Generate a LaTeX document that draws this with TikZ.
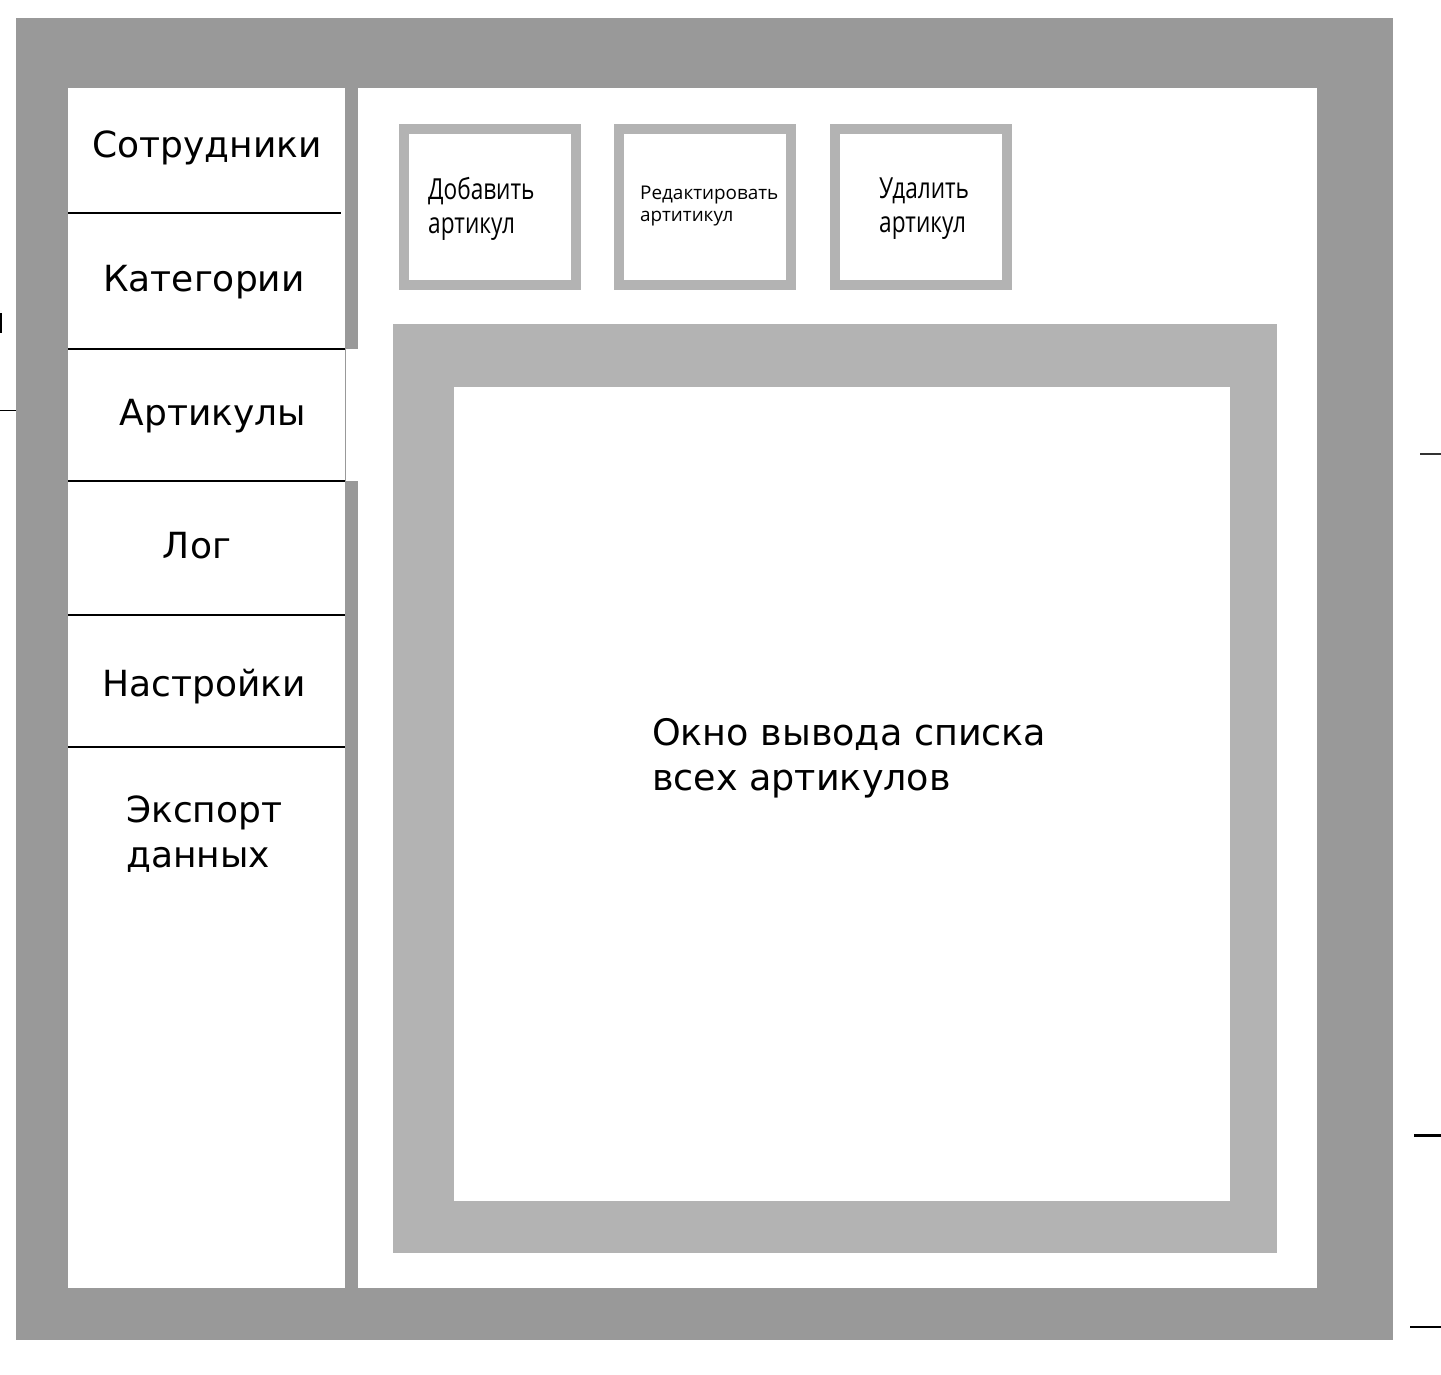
\documentclass[tikz,border=0pt]{standalone}
\usepackage{fontspec}
\setmainfont{DejaVu Sans}
\newfontfamily\btnfont{Open Sans}
\definecolor{outergray}{RGB}{153,153,153}
\definecolor{boxgray}{RGB}{179,179,179}
\tikzset{
  menutext/.style={anchor=base, inner sep=0pt, font=\fontsize{36}{45}\selectfont},
  divider/.style={draw=black, line width=2pt},
  btnbox/.style={draw=boxgray, fill=white, line width=10pt, minimum width=172pt, minimum height=156pt, inner sep=0pt},
  btntext/.style={anchor=base west, inner sep=0pt, align=left},
  stray/.style={draw=black, line width=1.5pt},
}
\begin{document}
\begin{tikzpicture}[x=1pt,y=-1pt]
\useasboundingbox (0,0) rectangle (1441,1375);
% frame
\fill[outergray] (16,18) rectangle (1393,1340);
\fill[white] (68,88) rectangle (345,1288);
\fill[white] (358,88) rectangle (1317,1288);
\fill[white] (345,349) rectangle (358,481);
\draw[outergray, line width=1pt] (345.5,349) -- (345.5,481);
% menu
\node[menutext] (m1) at (207,158) {Сотрудники};
\node[menutext] (m2) at (204,291) {Категории};
\node[menutext] (m3) at (213,425) {Артикулы};
\node[menutext] (m4) at (197,558) {Лог};
\node[menutext] (m5) at (204,696) {Настройки};
\node[menutext, anchor=base west, align=left] (m6) at (126,867) {Экспорт\\данных};
\coordinate (d1a) at (68,213); \coordinate (d1b) at (341,213);
\coordinate (d2a) at (68,349); \coordinate (d2b) at (345,349);
\coordinate (d3a) at (68,481); \coordinate (d3b) at (345,481);
\coordinate (d4a) at (68,615); \coordinate (d4b) at (345,615);
\coordinate (d5a) at (68,747); \coordinate (d5b) at (345,747);
\draw[divider] (d1a) -- (d1b);
\draw[divider] (d2a) -- (d2b);
\draw[divider] (d3a) -- (d3b);
\draw[divider] (d4a) -- (d4b);
\draw[divider] (d5a) -- (d5b);
% buttons
\node[btnbox] (b1) at (490,207) {};
\node[btnbox] (b2) at (705,207) {};
\node[btnbox] (b3) at (921,207) {};
\node[btntext, font=\btnfont\fontsize{29}{34}\selectfont] (t1) at (428,234) {\scalebox{0.78}[1]{Добавить}\\\scalebox{0.78}[1]{артикул}};
\node[btntext, font=\btnfont\fontsize{18.9}{22}\selectfont] (t2) at (640,222) {Редактировать\\артитикул};
\node[btntext, font=\btnfont\fontsize{29}{34}\selectfont] (t3) at (879,233) {\scalebox{0.78}[1]{Удалить}\\\scalebox{0.78}[1]{артикул}};
% list window
\fill[boxgray] (393,324) rectangle (1277,1253);
\fill[white] (454,387) rectangle (1230,1201);
\node[anchor=base west, inner sep=0pt, align=left, font=\fontsize{36.5}{45}\selectfont] (list) at (652,790) {Окно вывода списка\\всех артикулов};
% stray marks at the edges
\coordinate (s1a) at (0.75,313); \coordinate (s1b) at (0.75,333);
\coordinate (s2a) at (0,410); \coordinate (s2b) at (16,410);
\coordinate (s3a) at (1420,454); \coordinate (s3b) at (1441,454);
\coordinate (s4a) at (1414,1135); \coordinate (s4b) at (1441,1135);
\coordinate (s5a) at (1410,1327); \coordinate (s5b) at (1441,1327);
\draw[stray] (s1a) -- (s1b);
\draw[stray, line width=1pt] (s2a) -- (s2b);
\draw[stray, line width=1.2pt, draw=black!80] (s3a) -- (s3b);
\draw[stray, line width=3pt] (s4a) -- (s4b);
\draw[stray, line width=2pt] (s5a) -- (s5b);
\end{tikzpicture}
\end{document}
